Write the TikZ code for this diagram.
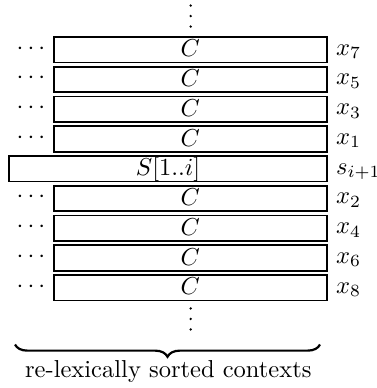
\documentclass[tikz,border=0pt]{standalone}
\usetikzlibrary{decorations.pathreplacing}
\begin{document}
\begin{tikzpicture}[x=0.408pt,y=-0.408pt,
  ctxbox/.style={draw, line width=0.8pt, rectangle, inner sep=0pt,
    minimum height=10.4pt, text height=6.83pt, text depth=0.95pt},
  cbox/.style={ctxbox, minimum width=111.4pt},
  sbox/.style={ctxbox, minimum width=129.5pt},
  rowlabel/.style={anchor=base west, inner sep=0pt},
  dotsnode/.style={anchor=base, inner sep=0pt},
  vdot/.style={fill=black}]
\useasboundingbox (0,0) rectangle (376,388);

% context rows above and below the current prefix
\foreach \name/\lab/\yy in {r7/x_7/49.75, r5/x_5/79.5, r3/x_3/109.25, r1/x_1/139,
                            r2/x_2/198.5, r4/x_4/228.25, r6/x_6/258, r8/x_8/287.75} {
  \node[cbox] (\name) at (190.2,\yy) {$C$};
  \node[rowlabel] (\name-lab) at (335.7,{\yy+5.3}) {$\lab$};
  \node[dotsnode] (\name-dots) at (31,{\yy+4.4}) {$\cdots$};
}

% the prefix row
\node[sbox] (sr) at (168,168.75) {$S[1..i]$};
\node[rowlabel] (sr-lab) at (335.7,174.05) {$s_{i+1}$};

% continuation marks above and below the rows
\foreach \yy in {5.6,16.1,26.6} {
  \fill[vdot] (190.7,\yy) circle [radius=0.55pt];
}
\foreach \yy in {308.4,318.9,329.4} {
  \fill[vdot] (190.7,\yy) circle [radius=0.55pt];
}

% brace and caption
\coordinate (bl) at (15,344.5);
\coordinate (br) at (320,344.5);
\draw[decorate, decoration={brace, mirror, amplitude=5pt}, line width=0.9pt] (bl) -- (br);
\node[anchor=base, inner sep=0pt] (caption) at (168.3,377.5) {re-lexically sorted contexts};
\end{tikzpicture}
\end{document}
